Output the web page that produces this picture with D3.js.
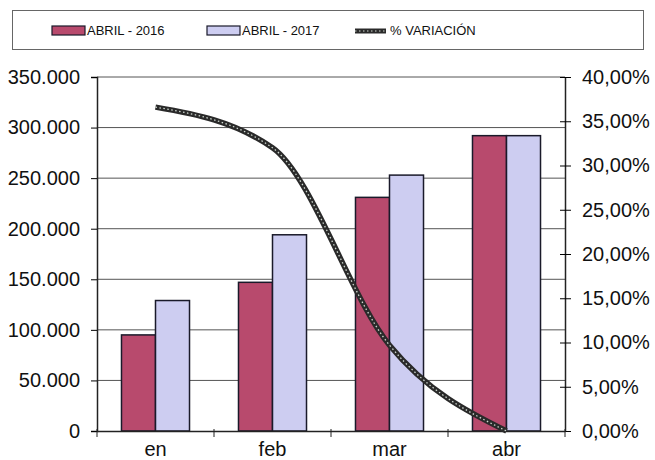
<!DOCTYPE html>
<html>
<head>
<meta charset="utf-8">
<script src="https://cdn.jsdelivr.net/npm/d3@7"></script>
<style>
  body { margin: 0; background: #fff; }
  svg text { font-family: Arial, "Liberation Sans", sans-serif; fill: #111; }
</style>
</head>
<body>
<svg id="chart" width="655" height="460"></svg>
<script>
// datos
const meses = ["en", "feb", "mar", "abr"];
const abril2016 = [95000, 147000, 231000, 292000];
const abril2017 = [129000, 194000, 253000, 292000];
const variacion = [0.366, 0.32, 0.097, 0.0];
const ticksIzq = [0, 50000, 100000, 150000, 200000, 250000, 300000, 350000];
const ticksDer = [0, 0.05, 0.10, 0.15, 0.20, 0.25, 0.30, 0.35, 0.40];

const svg = d3.select('#chart');
const mIzq = 97, mDer = 565, mSup = 77, mInf = 431;

const x = d3.scaleBand().domain(meses).range([mIzq, mDer]);
const xin = d3.scaleBand().domain(["a", "b"]).range([0, x.bandwidth()]).paddingOuter(0.72).paddingInner(0);
const y = d3.scaleLinear().domain([0, 350000]).range([mInf, mSup]);
const y2 = d3.scaleLinear().domain([0, 0.40]).range([mInf, mSup]);

const loc = d3.formatLocale({ decimal: ",", thousands: ".", grouping: [3], currency: ["", "€"] });
const fmtIzq = loc.format(",d");
const fmtDer = d => loc.format(".2f")(d * 100) + "%";

// rejilla
svg.append("g").selectAll("line")
  .data(ticksIzq.slice(1))
  .enter().append("line")
  .attr("x1", mIzq).attr("x2", mDer)
  .attr("y1", d => y(d)).attr("y2", d => y(d))
  .attr("stroke", "#555").attr("stroke-width", 1);

// barras
const colores = ["#b84a6d", "#cdcdf1"];
[abril2016, abril2017].forEach((serie, i) => {
  svg.append("g").selectAll("rect")
    .data(serie)
    .enter().append("rect")
    .attr("x", (d, j) => x(meses[j]) + xin(i ? "b" : "a"))
    .attr("width", xin.bandwidth())
    .attr("y", d => y(d))
    .attr("height", d => mInf - y(d))
    .attr("fill", colores[i])
    .attr("stroke", "#1a1a2a").attr("stroke-width", 1.5);
});

// ejes
const ejeIzq = svg.append("g").attr("transform", `translate(${mIzq},0)`)
  .call(d3.axisLeft(y).tickValues(ticksIzq).tickFormat(fmtIzq).tickSize(6).tickPadding(11));
ejeIzq.selectAll("text").style("font-size", "20px");

const ejeDer = svg.append("g").attr("transform", `translate(${mDer},0)`)
  .call(d3.axisRight(y2).tickValues(ticksDer).tickFormat(fmtDer).tickSizeInner(6).tickSizeOuter(0).tickPadding(11));
ejeDer.selectAll("text").style("font-size", "20px");
ejeDer.selectAll(".tick line").attr("x1", -5);

const ejeX = svg.append("g").attr("transform", `translate(0,${mInf})`)
  .call(d3.axisBottom(x).tickSize(0).tickPadding(11));
ejeX.selectAll("text").style("font-size", "20px");
svg.append("g").selectAll("line")
  .data(d3.range(meses.length + 1))
  .enter().append("line")
  .attr("x1", d => mIzq + d * x.step()).attr("x2", d => mIzq + d * x.step())
  .attr("y1", mInf - 2).attr("y2", mInf + 6)
  .attr("stroke", "#222");
svg.selectAll(".domain").attr("stroke", "#222").attr("stroke-width", 1.5);

// linea % variacion
const linea = d3.line()
  .x((d, i) => x(meses[i]) + x.bandwidth() / 2)
  .y(d => y2(d))
  .curve(d3.curveMonotoneX);
svg.append("path").datum(variacion)
  .attr("d", linea).attr("fill", "none")
  .attr("stroke", "#2a2a2a").attr("stroke-width", 5.5);
svg.append("path").datum(variacion)
  .attr("d", linea).attr("fill", "none")
  .attr("stroke", "#cfd8d0").attr("stroke-width", 1.3)
  .attr("stroke-dasharray", "1.5,2.5");

// leyenda
svg.append("rect").attr("x", 12.5).attr("y", 10.5).attr("width", 631).attr("height", 39)
  .attr("fill", "none").attr("stroke", "#666");
const leyenda = [
  { nombre: "ABRIL - 2016", x: 52, tipo: 0 },
  { nombre: "ABRIL - 2017", x: 207, tipo: 1 },
  { nombre: "% VARIACIÓN", x: 355, tipo: 2 }
];
leyenda.forEach(l => {
  if (l.tipo < 2) {
    svg.append("rect").attr("x", l.x).attr("y", 26).attr("width", 33).attr("height", 9)
      .attr("fill", colores[l.tipo]).attr("stroke", "#1a1a2a").attr("stroke-width", 1.2);
  } else {
    svg.append("line").attr("x1", l.x).attr("x2", l.x + 31).attr("y1", 31).attr("y2", 31)
      .attr("stroke", "#2a2a2a").attr("stroke-width", 5);
    svg.append("line").attr("x1", l.x).attr("x2", l.x + 31).attr("y1", 31).attr("y2", 31)
      .attr("stroke", "#cfd8d0").attr("stroke-width", 1.2).attr("stroke-dasharray", "1.5,2.5");
  }
  svg.append("text").attr("x", l.x + 35).attr("y", 35)
    .style("font-size", "13px").text(l.nombre);
});
</script>
</body>
</html>
